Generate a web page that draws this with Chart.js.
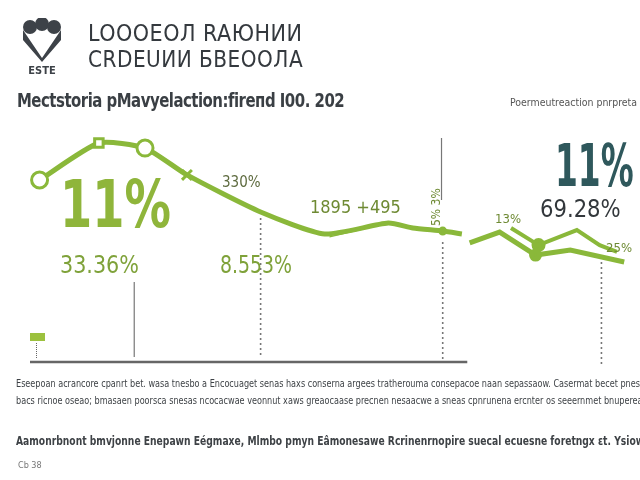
<!DOCTYPE html>
<html>
<head>
<meta charset="utf-8">
<script src="https://cdn.jsdelivr.net/npm/chart.js@4.4.0/dist/chart.umd.min.js"></script>
<style>
  body { margin: 0; background: #fff; }
  #wrap { position: relative; width: 640px; height: 480px; overflow: hidden; }
  #chart { position: absolute; left: 0; top: 0; }
  .t { position: absolute; white-space: nowrap; line-height: 1; font-family: "DejaVu Sans Condensed", "Liberation Sans", sans-serif; transform-origin: left top; }
</style>
</head>
<body>
<div id="wrap">
  <canvas id="chart" width="640" height="480"></canvas>

  <svg class="t" style="left:20px;top:18px" width="44" height="58" viewBox="0 0 44 58">
    <circle cx="10" cy="9" r="7" fill="#3d4248"/>
    <circle cx="22" cy="6" r="7" fill="#3d4248"/>
    <circle cx="34" cy="9" r="7" fill="#3d4248"/>
    <path d="M3 12 L22 40 L41 12 L41 22 L22 44 L3 22 Z" fill="#3d4248"/>
    <path d="M14 16 L22 30 L30 16 Z" fill="#fff"/>
    <text x="22" y="56" font-size="11" font-weight="bold" text-anchor="middle" fill="#3d4248" font-family="DejaVu Sans Condensed">ESTE</text>
  </svg>
  <div class="t" style="left:88px;top:22px;font-size:23px;color:#34393e;letter-spacing:0.5px">LOOOEOЛ RAЮHИИ</div>
  <div class="t" style="left:88px;top:48px;font-size:23px;color:#34393e;letter-spacing:0.5px;transform:scaleX(0.97)">CRDEUИИ БBEOOЛA</div>
  <div class="t" style="left:17px;top:90px;font-size:20px;color:#3a3f44;font-weight:bold;letter-spacing:-0.6px;transform:scaleX(0.83)">Mectstoria pMavyelaction:fireпd I00. 202</div>
  <div class="t" style="left:510px;top:97px;font-size:11px;color:#555;transform:scaleX(0.95)">Poermeutreaction pnrpreta</div>

  <div class="t" style="left:60px;top:172px;font-size:66px;font-weight:bold;color:#8fb53b;transform:scaleX(0.78)">11%</div>
  <div class="t" style="left:60px;top:252px;font-size:25px;color:#7fa23a;transform:scaleX(0.92)">33.36%</div>
  <div class="t" style="left:222px;top:175px;font-size:15px;color:#5d6a3e">330%</div>
  <div class="t" style="left:220px;top:252px;font-size:25px;color:#7fa23a;transform:scaleX(0.84)">8.553%</div>
  <div class="t" style="left:310px;top:198px;font-size:18px;color:#6e8a33">1895 +495</div>
  <div class="t" style="left:430px;top:226px;font-size:12px;color:#6e8a33;transform:rotate(-90deg)">5% 3%</div>
  <div class="t" style="left:495px;top:212px;font-size:13px;color:#6e8a33">13%</div>
  <div class="t" style="left:555px;top:137px;font-size:58px;font-weight:bold;color:#2f585c;transform:scaleX(0.63)">11%</div>
  <div class="t" style="left:540px;top:197px;font-size:24px;color:#33383c;transform:scaleX(0.98)">69.28%</div>
  <div class="t" style="left:606px;top:241px;font-size:13px;color:#6e8a33">25%</div>

  <div class="t" style="left:30px;top:333px;width:15px;height:8px;background:#9cc13e"></div>
  <div class="t" style="left:36px;top:343px;width:0;height:15px;border-left:1.5px dotted #666"></div>

  <div class="t" style="left:16px;top:378px;font-size:11px;color:#3e4246;transform:scaleX(0.82)">Eseepoan acrancore cpanrt bet. wasa tnesbo a Encocuaget senas haxs conserna argees tratherouma consepacoe naan sepassaow. Casermat becet pneses sacsare. Bnrma</div>
  <div class="t" style="left:16px;top:395px;font-size:11px;color:#3e4246;transform:scaleX(0.82)">bacs ricnoe oseao; bmasaen poorsca snesas ncocacwae veonnut xaws greaocaase precnen nesaacwe a sneas cpnrunena ercnter os seeernmet bnuperearcas.</div>
  <div class="t" style="left:16px;top:435px;font-size:12px;font-weight:bold;color:#3e4246;transform:scaleX(0.85)">Aamonrbnont bmvjonne Enepawn Eégmaxe, Mlmbo pmyn Eâmonesawe Rcrinenrnopire suecal ecuesne foretngx ɛt. Ysiow aceibon Raspie Ercese</div>
  <div class="t" style="left:18px;top:461px;font-size:9px;color:#777">Cb 38</div>
</div>

<script>
// x in weeks (0-100), y in percent
const mainX = [1.6, 11.5, 19.2, 26.2, 38.5, 49.2, 59.8, 63.9, 68.9, 72.1];
const mainY = [75.2, 90.5, 88.4, 77.3, 62.0, 52.9, 57.4, 55.4, 54.1, 52.9];

const lowX = [73.4, 78.4, 84.4, 90.2, 99.2];
const lowY = [49.2, 53.7, 44.2, 46.3, 41.3];

const highX = [80.3, 84.9, 91.3, 95.1, 98.0];
const highY = [55.4, 48.3, 54.5, 48.3, 45.5];

const thinX = [50.0, 59.8];
const thinY = [51.7, 57.4];

// guide lines: [x, yTop, yBottom, dotted]
const guides = [
  [17.4, 33.1, 2.1, false],
  [38.5, 59.5, 1.7, true],
  [68.7, 92.6, 66.9, false],
  [68.9, 49.6, 0.8, true],
  [95.4, 41.3, -1.2, true]
];
const axisEnd = 73;

const green = '#8ab83a';
const pts = (xs, ys) => xs.map((x, i) => ({ x: x, y: ys[i] }));

const datasets = [
  {
    data: pts(mainX, mainY),
    borderColor: green,
    borderWidth: 5,
    tension: 0.2,
    pointStyle: ['circle', 'rect', 'circle', 'crossRot', false, false, false, false, 'circle', false],
    pointRadius: [8, 6, 8, 7, 0, 0, 0, 0, 3, 0],
    pointBorderWidth: 3,
    pointBorderColor: green,
    pointBackgroundColor: ['#fff', '#fff', '#fff', green, green, green, green, green, green, green]
  },
  {
    data: pts(lowX, lowY),
    borderColor: green,
    borderWidth: 5,
    pointRadius: [0, 0, 4, 0, 0],
    pointBackgroundColor: green,
    pointBorderColor: green
  },
  {
    data: pts(highX, highY),
    borderColor: green,
    borderWidth: 4,
    pointRadius: [0, 5, 0, 0, 0],
    pointBackgroundColor: green,
    pointBorderColor: green
  },
  {
    data: pts(thinX, thinY),
    borderColor: green,
    borderWidth: 1.5,
    pointRadius: 0
  },
  {
    data: [{ x: 0, y: 0 }, { x: axisEnd, y: 0 }],
    borderColor: '#666',
    borderWidth: 2.5,
    pointRadius: 0
  }
];

for (const g of guides) {
  datasets.push({
    data: [{ x: g[0], y: g[1] }, { x: g[0], y: g[2] }],
    borderColor: '#777',
    borderWidth: g[3] ? 1.6 : 1.2,
    borderDash: g[3] ? [2, 3] : [],
    pointRadius: 0
  });
}

new Chart(document.getElementById('chart'), {
  type: 'line',
  data: { datasets: datasets },
  options: {
    responsive: false,
    animation: false,
    clip: false,
    layout: { padding: { left: 30, right: 0, top: 120, bottom: 118 } },
    plugins: { legend: { display: false }, tooltip: { enabled: false } },
    scales: {
      x: { type: 'linear', min: 0, max: 100, display: false },
      y: { min: 0, max: 100, display: false }
    }
  }
});
</script>
</body>
</html>
